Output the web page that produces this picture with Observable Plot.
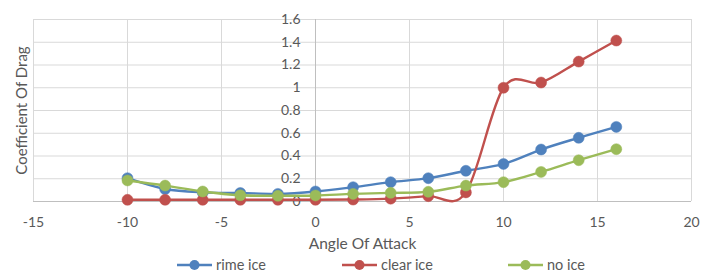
<!DOCTYPE html>
<html>
<head>
<meta charset="utf-8">
<script src="https://cdn.jsdelivr.net/npm/d3@7"></script>
<script src="https://cdn.jsdelivr.net/npm/@observablehq/plot@0.6"></script>
<style>
  html, body { margin: 0; padding: 0; background: #fff; }
  #chart { width: 712px; }
  .legend { position: relative; width: 712px; height: 17px; font-family: Lato, sans-serif; font-size: 14.5px; color: #595959; }
  .legend .item { position: absolute; top: 0; display: flex; align-items: center; height: 17px; }
  .legend svg { margin-right: 4px; }
</style>
</head>
<body>
<div id="chart"></div>
<script>
const angle = [-10, -8, -6, -4, -2, 0, 2, 4, 6, 8, 10, 12, 14, 16];
const rimeIce = [0.205, 0.11, 0.08, 0.075, 0.067, 0.088, 0.126, 0.17, 0.205, 0.27, 0.33, 0.457, 0.56, 0.656];
const clearIce = [0.015, 0.015, 0.015, 0.015, 0.015, 0.015, 0.017, 0.025, 0.047, 0.08, 1.0, 1.046, 1.23, 1.415];
const noIce = [0.185, 0.14, 0.088, 0.055, 0.05, 0.053, 0.067, 0.076, 0.085, 0.14, 0.17, 0.26, 0.363, 0.46];
const seriesNames = ["rime ice", "clear ice", "no ice"];
const seriesColors = ["#4F81BD", "#C0504D", "#9BBB59"];
const xTicks = [-15, -10, -5, 0, 5, 10, 15, 20];
const yTicks = [0, 0.2, 0.4, 0.6, 0.8, 1, 1.2, 1.4, 1.6];
const yTickLabels = ["0", "0.2", "0.4", "0.6", "0.8", "1", "1.2", "1.4", "1.6"];
const xTitle = "Angle Of Attack";
const yTitle = "Coefficient Of Drag";

const seriesValues = [rimeIce, clearIce, noIce];
const rows = seriesNames.map((name, i) => angle.map((a, j) => ({series: name, angle: a, cd: seriesValues[i][j]})));

const seriesMarks = rows.flatMap(data => [
  Plot.line(data, {x: "angle", y: "cd", stroke: "series", strokeWidth: 2.4, curve: "cardinal"}),
  Plot.dot(data, {x: "angle", y: "cd", fill: "series", r: 5.5, stroke: "series", strokeOpacity: 0.5, strokeWidth: 1})
]);

const chart = Plot.plot({
  width: 712,
  height: 256,
  marginLeft: 33,
  marginRight: 21,
  marginTop: 19,
  marginBottom: 55,
  style: {fontFamily: "Lato, sans-serif", fontSize: "14px", background: "#fff"},
  x: {domain: [-15, 20]},
  y: {domain: [0, 1.6], axis: null},
  color: {domain: seriesNames, range: seriesColors},
  marks: [
    Plot.gridX(xTicks, {stroke: "#d9d9d9", strokeOpacity: 1}),
    Plot.gridY(yTicks, {stroke: "#d9d9d9", strokeOpacity: 1}),
    Plot.ruleX([0], {stroke: "#bfbfbf"}),
    Plot.ruleY([0], {stroke: "#bfbfbf"}),
    Plot.axisX(xTicks, {tickSize: 0, tickPadding: 16, tickFormat: d => String(d), color: "#595959", label: null}),
    Plot.text(yTicks, {x: () => 0, y: d => d, text: (d, i) => yTickLabels[i], textAnchor: "end", dx: -15, fill: "#595959"}),
    Plot.text([yTitle], {frameAnchor: "left", textAnchor: "middle", rotate: -90, dx: -11, fill: "#595959", fontSize: 15}),
    Plot.text([xTitle], {frameAnchor: "bottom", dy: 47, fill: "#595959", fontSize: 15.5}),
    ...seriesMarks
  ]
});
document.getElementById("chart").appendChild(chart);

// legend
const legend = document.createElement("div");
legend.className = "legend";
const legendLeft = [177, 342, 508];
seriesNames.forEach((name, i) => {
  const item = document.createElement("div");
  item.className = "item";
  item.style.left = legendLeft[i] + "px";
  item.innerHTML = `<svg width="35" height="12"><line x1="0" x2="35" y1="6" y2="6" stroke="${seriesColors[i]}" stroke-width="2.4"/><circle cx="17.5" cy="6" r="5" fill="${seriesColors[i]}"/></svg><span>${name}</span>`;
  legend.appendChild(item);
});
document.body.appendChild(legend);
</script>
</body>
</html>
